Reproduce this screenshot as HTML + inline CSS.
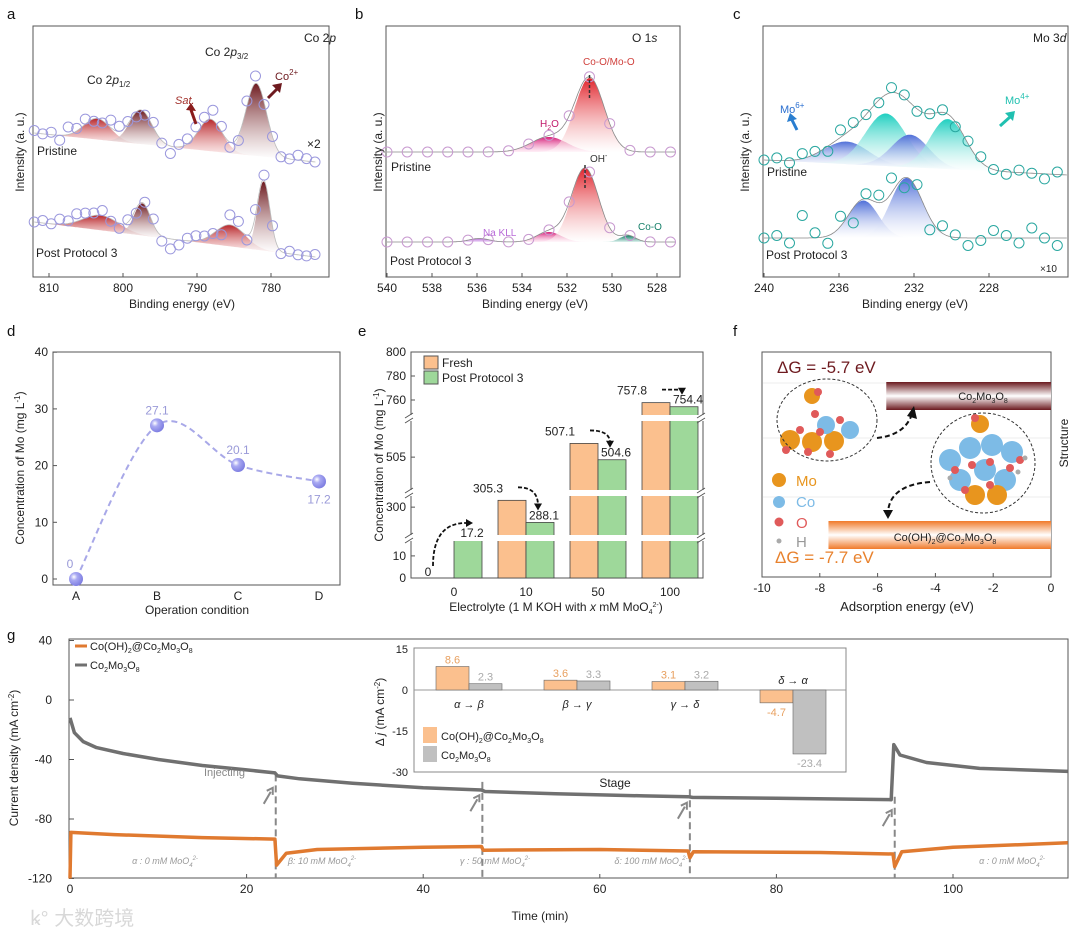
<!DOCTYPE html>
<html><head><meta charset="utf-8"><title>Figure</title>
<style>
html,body{margin:0;padding:0;background:#fff;}
svg{display:block;font-family:"Liberation Sans","Noto Sans CJK SC",sans-serif;}
.t{font-size:12px;fill:#222;}
.tk{font-size:12px;fill:#222;}
.pl{font-size:15px;fill:#111;}
</style></head>
<body>
<svg id="fig" width="1080" height="941" viewBox="0 0 1080 941" xmlns="http://www.w3.org/2000/svg">
<defs>
<linearGradient id="gDark" x1="0" y1="0" x2="0" y2="1"><stop offset="0" stop-color="#6e1a1f"/><stop offset="1" stop-color="#fff" stop-opacity="0.6"/></linearGradient>
<linearGradient id="gRed" x1="0" y1="0" x2="0" y2="1"><stop offset="0" stop-color="#b8262a"/><stop offset="1" stop-color="#fbe0e0" stop-opacity="0.6"/></linearGradient>
<linearGradient id="gPink" x1="0" y1="0" x2="0" y2="1"><stop offset="0" stop-color="#d6207a"/><stop offset="1" stop-color="#fde" stop-opacity="0.5"/></linearGradient>
<linearGradient id="gRed2" x1="0" y1="0" x2="0" y2="1"><stop offset="0" stop-color="#e0242c"/><stop offset="1" stop-color="#fff" stop-opacity="0.5"/></linearGradient>
<linearGradient id="gPurp" x1="0" y1="0" x2="0" y2="1"><stop offset="0" stop-color="#b86ad8"/><stop offset="1" stop-color="#f3e6fb"/></linearGradient>
<linearGradient id="gTealD" x1="0" y1="0" x2="0" y2="1"><stop offset="0" stop-color="#17806a"/><stop offset="1" stop-color="#e0f3ef"/></linearGradient>
<linearGradient id="gBlue" x1="0" y1="0" x2="0" y2="1"><stop offset="0" stop-color="#4f6fd8"/><stop offset="1" stop-color="#fff" stop-opacity="0.4"/></linearGradient>
<linearGradient id="gTeal" x1="0" y1="0" x2="0" y2="1"><stop offset="0" stop-color="#20cfc0"/><stop offset="1" stop-color="#fff" stop-opacity="0.4"/></linearGradient>
<linearGradient id="gBar1" x1="0" y1="0" x2="0" y2="1"><stop offset="0" stop-color="#6b1a1f"/><stop offset="0.5" stop-color="#fff"/><stop offset="1" stop-color="#6b1a1f"/></linearGradient>
<linearGradient id="gBar2" x1="0" y1="0" x2="0" y2="1"><stop offset="0" stop-color="#f07a2a"/><stop offset="0.5" stop-color="#fff"/><stop offset="1" stop-color="#f07a2a"/></linearGradient>
<radialGradient id="gBall" cx="0.35" cy="0.35" r="0.7"><stop offset="0" stop-color="#fff"/><stop offset="0.35" stop-color="#a9a9f2"/><stop offset="1" stop-color="#7b7be0"/></radialGradient>
</defs>

<text class="pl" x="7" y="19">a</text>
<text class="pl" x="355" y="19">b</text>
<text class="pl" x="733" y="19">c</text>
<text class="pl" x="7" y="336">d</text>
<text class="pl" x="358" y="336">e</text>
<text class="pl" x="733" y="336">f</text>
<text class="pl" x="7" y="640">g</text>

<rect x="33" y="26" width="296" height="251" fill="none" stroke="#555"/>
<g id="pa"></g>
<text class="t" x="304" y="42">Co 2<tspan font-style="italic">p</tspan></text>
<text class="t" x="205" y="56">Co 2<tspan font-style="italic">p</tspan><tspan font-size="8" dy="3">3/2</tspan></text>
<text class="t" x="87" y="84">Co 2<tspan font-style="italic">p</tspan><tspan font-size="8" dy="3">1/2</tspan></text>
<text x="175" y="104" font-size="11" font-style="italic" fill="#a2302a">Sat.</text>
<path d="M196 124 L191 110" stroke="#8a1c1c" stroke-width="3"/>
<path d="M186 110 L191 103 L196 111 Z" fill="#8a1c1c"/>
<text x="275" y="80" font-size="11" fill="#6e1a1f">Co<tspan font-size="8" dy="-5">2+</tspan></text>
<path d="M268 98 L277 89" stroke="#6e1a1f" stroke-width="3"/>
<path d="M272 85 L282 83 L280 93 Z" fill="#6e1a1f"/>
<text class="t" x="37" y="155">Pristine</text>
<text class="t" x="307" y="148">×2</text>
<text class="t" x="36" y="257">Post Protocol 3</text>
<text class="t" transform="translate(24,152) rotate(-90)" text-anchor="middle">Intensity (a. u.)</text>
<text class="t" x="182" y="308" text-anchor="middle">Binding energy (eV)</text>

<rect x="386" y="26" width="294" height="251" fill="none" stroke="#555"/>
<g id="pb"></g>
<text class="t" x="632" y="42">O 1<tspan font-style="italic">s</tspan></text>
<text x="583" y="65" font-size="10" fill="#d0403c">Co-O/Mo-O</text>
<text x="540" y="127" font-size="10" fill="#c0186a">H<tspan font-size="7" dy="3">2</tspan><tspan dy="-3">O</tspan></text>
<text class="t" x="391" y="171">Pristine</text>
<text x="590" y="162" font-size="10" fill="#333">OH<tspan font-size="7" dy="-4">-</tspan></text>
<text x="483" y="236" font-size="10" fill="#b86ad8">Na KLL</text>
<text x="638" y="230" font-size="10" fill="#17806a">Co-O</text>
<text class="t" x="390" y="265">Post Protocol 3</text>
<text class="t" transform="translate(382,152) rotate(-90)" text-anchor="middle">Intensity (a. u.)</text>
<text class="t" x="535" y="308" text-anchor="middle">Binding energy (eV)</text>

<rect x="763" y="26" width="305" height="251" fill="none" stroke="#555"/>
<g id="pc"></g>
<text class="t" x="1033" y="42">Mo 3<tspan font-style="italic">d</tspan></text>
<text x="780" y="113" font-size="11" fill="#2a6fd0">Mo<tspan font-size="8" dy="-5">6+</tspan></text>
<path d="M797 130 L792 120" stroke="#2a7ed0" stroke-width="3"/>
<path d="M787 122 L790 113 L797 119 Z" fill="#2a7ed0"/>
<text x="1005" y="104" font-size="11" fill="#20c0b0">Mo<tspan font-size="8" dy="-5">4+</tspan></text>
<path d="M1000 126 L1010 117" stroke="#20c0b0" stroke-width="3"/>
<path d="M1005 113 L1015 111 L1013 121 Z" fill="#20c0b0"/>
<text class="t" x="767" y="176">Pristine</text>
<text class="t" x="766" y="259">Post Protocol 3</text>
<text x="1040" y="272" font-size="10" fill="#222">×10</text>
<text class="t" transform="translate(749,152) rotate(-90)" text-anchor="middle">Intensity (a. u.)</text>
<text class="t" x="915" y="308" text-anchor="middle">Binding energy (eV)</text>

<rect x="53" y="352" width="287" height="233" fill="none" stroke="#555"/>
<g id="pd"></g>
<text class="t" transform="translate(24,468) rotate(-90)" text-anchor="middle" font-size="11">Concentration of Mo (mg L<tspan font-size="8" dy="-4">-1</tspan><tspan dy="4">)</tspan></text>
<text class="t" x="197" y="614" text-anchor="middle" font-size="11">Operation condition</text>

<rect x="411" y="352" width="292" height="226" fill="none" stroke="#555"/>
<g id="pe"></g>
<rect x="424" y="356" width="14" height="13" fill="#fbc08e" stroke="#555"/>
<text class="t" x="442" y="367">Fresh</text>
<rect x="424" y="371" width="14" height="13" fill="#9ed89a" stroke="#555"/>
<text class="t" x="442" y="382">Post Protocol 3</text>
<text class="t" transform="translate(383,465) rotate(-90)" text-anchor="middle" font-size="11">Concentration of Mo (mg L<tspan font-size="8" dy="-4">-1</tspan><tspan dy="4">)</tspan></text>
<text class="t" x="556" y="611" text-anchor="middle" font-size="11">Electrolyte (1 M KOH with <tspan font-style="italic">x</tspan> mM MoO<tspan font-size="7" dy="3">4</tspan><tspan font-size="7" dy="-7">2-</tspan><tspan dy="4">)</tspan></text>

<rect x="762" y="352" width="289" height="225" fill="none" stroke="#555"/>
<g id="pf"></g>
<text x="777" y="373" font-size="17" fill="#6e1a1f">ΔG = -5.7 eV</text>
<text x="775" y="563" font-size="17" fill="#e8822e">ΔG = -7.7 eV</text>
<text x="983" y="400" font-size="11" text-anchor="middle" fill="#222">Co<tspan font-size="7" dy="3">2</tspan><tspan dy="-3">Mo</tspan><tspan font-size="7" dy="3">3</tspan><tspan dy="-3">O</tspan><tspan font-size="7" dy="3">8</tspan></text>
<text x="945" y="541" font-size="11" text-anchor="middle" fill="#222">Co(OH)<tspan font-size="7" dy="3">2</tspan><tspan dy="-3">@Co</tspan><tspan font-size="7" dy="3">2</tspan><tspan dy="-3">Mo</tspan><tspan font-size="7" dy="3">3</tspan><tspan dy="-3">O</tspan><tspan font-size="7" dy="3">8</tspan></text>
<g>
<circle cx="779" cy="480" r="7" fill="#e8951e"/>
<text x="796" y="486" font-size="15" fill="#e8951e">Mo</text>
<circle cx="779" cy="502" r="6" fill="#7dbbe6"/>
<text x="796" y="507" font-size="15" fill="#7dbbe6">Co</text>
<circle cx="779" cy="522" r="4.5" fill="#e05a5a"/>
<text x="796" y="528" font-size="15" fill="#e05a5a">O</text>
<circle cx="779" cy="541" r="2.5" fill="#aaa"/>
<text x="796" y="547" font-size="15" fill="#999">H</text>
</g>
<text class="t" transform="translate(1068,443) rotate(-90)" text-anchor="middle">Structure</text>
<text x="907" y="611" font-size="13" text-anchor="middle" fill="#222">Adsorption energy (eV)</text>

<rect x="69" y="639" width="999" height="239" fill="none" stroke="#555"/>
<g id="pg"></g>
<text class="t" transform="translate(18,758) rotate(-90)" text-anchor="middle" font-size="11">Current density (mA cm<tspan font-size="8" dy="-4">-2</tspan><tspan dy="4">)</tspan></text>
<text class="t" x="540" y="920" text-anchor="middle" font-size="11">Time (min)</text>
<line x1="75" y1="646" x2="87" y2="646" stroke="#e07a30" stroke-width="3"/>
<text x="90" y="650" font-size="11" fill="#222">Co(OH)<tspan font-size="7" dy="3">2</tspan><tspan dy="-3">@Co</tspan><tspan font-size="7" dy="3">2</tspan><tspan dy="-3">Mo</tspan><tspan font-size="7" dy="3">3</tspan><tspan dy="-3">O</tspan><tspan font-size="7" dy="3">8</tspan></text>
<line x1="75" y1="665" x2="87" y2="665" stroke="#707070" stroke-width="3"/>
<text x="90" y="669" font-size="11" fill="#222">Co<tspan font-size="7" dy="3">2</tspan><tspan dy="-3">Mo</tspan><tspan font-size="7" dy="3">3</tspan><tspan dy="-3">O</tspan><tspan font-size="7" dy="3">8</tspan></text>
<text x="204" y="776" font-size="11" fill="#888">Injecting</text>
<g font-size="9" fill="#999" font-style="italic" text-anchor="middle">
<text x="165" y="864">α : 0 mM MoO<tspan font-size="6" dy="3">4</tspan><tspan font-size="6" dy="-7">2-</tspan></text>
<text x="322" y="864">β: 10 mM MoO<tspan font-size="6" dy="3">4</tspan><tspan font-size="6" dy="-7">2-</tspan></text>
<text x="495" y="864">γ : 50 mM MoO<tspan font-size="6" dy="3">4</tspan><tspan font-size="6" dy="-7">2-</tspan></text>
<text x="651" y="864">δ: 100 mM MoO<tspan font-size="6" dy="3">4</tspan><tspan font-size="6" dy="-7">2-</tspan></text>
<text x="1012" y="864">α : 0 mM MoO<tspan font-size="6" dy="3">4</tspan><tspan font-size="6" dy="-7">2-</tspan></text>
</g>
<rect x="414" y="648" width="432" height="124" fill="#fff" stroke="#888"/>
<g id="pi"></g>
<text class="t" x="615" y="787" text-anchor="middle">Stage</text>
<text class="t" transform="translate(384,712) rotate(-90)" text-anchor="middle" font-size="11">Δ <tspan font-style="italic">j</tspan> (mA cm<tspan font-size="8" dy="-4">-2</tspan><tspan dy="4">)</tspan></text>
<rect x="423" y="727" width="14" height="16" fill="#fbc08e"/>
<text x="441" y="740" font-size="11" fill="#222">Co(OH)<tspan font-size="7" dy="3">2</tspan><tspan dy="-3">@Co</tspan><tspan font-size="7" dy="3">2</tspan><tspan dy="-3">Mo</tspan><tspan font-size="7" dy="3">3</tspan><tspan dy="-3">O</tspan><tspan font-size="7" dy="3">8</tspan></text>
<rect x="423" y="746" width="14" height="16" fill="#c0c0c0"/>
<text x="441" y="759" font-size="11" fill="#222">Co<tspan font-size="7" dy="3">2</tspan><tspan dy="-3">Mo</tspan><tspan font-size="7" dy="3">3</tspan><tspan dy="-3">O</tspan><tspan font-size="7" dy="3">8</tspan></text>

<text x="30" y="925" font-size="20" fill="#d8d8d8">ꝃ° 大数跨境</text>
</svg>

<script>
const aPrisPeakCenters=[803.5,797.6,788.2,782.0];
const aPrisPeakHeights=[8.4,13.6,12.8,29];
const aPrisPeakWidths=[1.8,1.5,1.6,1.4];
const aPrisBase=[57.6,46];
const aPostPeakCenters=[803.0,797.4,785.5,781.0];
const aPostPeakHeights=[6,12.8,8.6,27.6];
const aPostPeakWidths=[2.4,1.1,2.0,0.85];
const aPostBase=[22,8];
const aPeakFills=['url(#gRed)','url(#gDark)','url(#gRed)','url(#gDark)'];
const aPrisResid=[1,0,1,-2,3,1,2,-1,-1,3,2,1,-2,-1,2,-1,-3,1,2,3,2,4,2,-2,-2,2,3,-1,0,-1,0,2];
const aPostResid=[0,1,0,2,1,3,2,1,2,-1,-2,1,-2,1,2,-2,-4,-2,1,2,1,0,-3,4,3,-2,2,2,0,-1,1,0];
const aTicks=[810,800,790,780];
const bPrisPeakCenters=[532.8,531.0];
const bPrisPeakHeights=[6,29.6];
const bPrisPeakWidths=[0.8,0.65];
const bPrisFills=['url(#gPink)','url(#gRed2)'];
const bPrisBase=50;
const bPostPeakCenters=[535.9,532.8,531.2,529.3];
const bPostPeakHeights=[1.4,4,29.6,2.6];
const bPostPeakWidths=[0.45,0.55,0.6,0.35];
const bPostFills=['url(#gPurp)','url(#gPink)','url(#gRed2)','url(#gTealD)'];
const bPostBase=14;
const bTicks=[540,538,536,534,532,530,528];
const cPrisPeakCenters=[235.6,233.5,232.2,230.2];
const cPrisPeakHeights=[9,21,13,20];
const cPrisPeakWidths=[1.2,1.1,1.0,0.95];
const cPrisFills=['url(#gBlue)','url(#gTeal)','url(#gBlue)','url(#gTeal)'];
const cPrisBase=[46.8,40.8];
const cPostPeakCenters=[234.7,232.4];
const cPostPeakHeights=[15,24];
const cPostPeakWidths=[0.8,0.85];
const cPostBase=15.6;
const cPrisResid=[0,1,-1,2,1,-2,3,2,0,-1,2,1,-1,0,1,-2,1,2,0,-1,1,0,-2,1,0];
const cPostResid=[0,1,-2,9,2,-3,4,-6,2,3,6,-4,2,-5,3,1,-3,-1,3,1,-2,4,0,-3,2];
const cTicks=[240,236,232,228];
const dCats=['A','B','C','D'];
const dVals=[0,27.1,20.1,17.2];
const dTicks=[0,10,20,30,40];
const eCats=['0','10','50','100'];
const eFresh=[0,305.3,507.1,757.8];
const ePost=[17.2,288.1,504.6,754.4];
const eTickVals=[0,10,300,505,760,780,800];
const fTicks=[-10,-8,-6,-4,-2,0];
const fEnergies=[-5.7,-7.7];
const gTicksX=[0,20,40,60,80,100];
const gTicksY=[40,0,-40,-80,-120];
const grayT=[0,0.5,1.5,3,6,10,15,20,23.2,23.5,26,32,40,46.6,47,55,65,70,70.5,80,93,93.3,94,97,103,113];
const grayV=[-12,-22,-28,-32,-36,-40,-44,-47,-49,-51,-53,-56,-59,-60.5,-61.5,-63,-64.5,-65,-65.5,-66,-67,-30,-37,-42,-46,-48];
const orT=[0,0.1,5,15,23.2,23.4,24.5,28,40,46.6,46.8,60,70,70.2,70.6,85,93.2,93.4,94.2,100,113];
const orV=[-120,-89,-90.5,-92.5,-93.5,-111,-103,-100.5,-99,-98.5,-101,-100.5,-101.5,-106,-102,-102.5,-103.5,-112,-102,-99,-96];
const injectT=[23.3,46.7,70.2,93.4];
const iCats=['α → β','β → γ','γ → δ','δ → α'];
const iCoOH=[8.6,3.6,3.1,-4.7];
const iCo2=[2.3,3.3,3.2,-23.4];
const iTicks=[15,0,-15,-30];

const NS='http://www.w3.org/2000/svg';
function mk(tag,attrs,parent){const e=document.createElementNS(NS,tag);for(const k in attrs)e.setAttribute(k,attrs[k]);parent.appendChild(e);return e;}
function gauss(E,c,h,w){return h*Math.exp(-0.5*((E-c)/w)**2);}

function xps(g,xs,ys,e0,e1,base,cs,hs,ws,fills,outline,circleColor,step,resid,lineColor){
  const bl=E=>typeof base==='number'?base:base[0]+(base[1]-base[0])*(e0-E)/(e0-e1);
  const env=E=>{let s=bl(E);for(let i=0;i<cs.length;i++)s+=gauss(E,cs[i],hs[i],ws[i]);return s;};
  for(let i=0;i<cs.length;i++){
    let d='';
    for(let E=cs[i]+3.5*ws[i];E>=cs[i]-3.5*ws[i];E-=0.05){d+=(d?'L':'M')+xs(E).toFixed(1)+' '+ys(bl(E)+gauss(E,cs[i],hs[i],ws[i])).toFixed(1);}
    for(let E=cs[i]-3.5*ws[i];E<=cs[i]+3.5*ws[i];E+=0.2){d+='L'+xs(E).toFixed(1)+' '+ys(bl(E)).toFixed(1);}
    const p=mk('path',{d:d+'Z',fill:fills[i],stroke:'none'},g);
    
    
  }
  let d='';
  for(let E=e0;E>=e1;E-=0.05)d+=(d?'L':'M')+xs(E).toFixed(1)+' '+ys(env(E)).toFixed(1);
  const env1=mk('path',{d,fill:'none',stroke:lineColor,'stroke-width':0.8},g);
  
  
  let i=0;
  for(let E=e0;E>=e1;E-=step,i++){
    const c=mk('circle',{cx:xs(E).toFixed(1),cy:ys(env(E)+(resid[i%resid.length]||0)).toFixed(1),r:5,fill:'none',stroke:circleColor,'stroke-width':1},g);
    
    
  }
}
function xTicks(g,xs,ticks,y,fmt){
  ticks.forEach(t=>{
    const l=mk('line',{x1:xs(t),x2:xs(t),y1:y,y2:y-4,stroke:'#555'},g);
    
    
    const tx=mk('text',{x:xs(t),y:y+15,'text-anchor':'middle','font-size':12,fill:'#222'},g);
    tx.textContent=fmt?fmt(t):t;
    
    
  });
}

{const g=document.getElementById('pa');
 const xs=E=>49+(810-E)*7.4, ys=I=>277-I*2.5;
 xps(g,xs,ys,812,774,aPrisBase,aPrisPeakCenters,aPrisPeakHeights,aPrisPeakWidths,aPeakFills,0,'#9b98dd',1.15,aPrisResid,'#bbb');
 xps(g,xs,ys,812,774,aPostBase,aPostPeakCenters,aPostPeakHeights,aPostPeakWidths,aPeakFills,0,'#9b98dd',1.15,aPostResid,'#bbb');
 xTicks(g,xs,aTicks,277);}
{const g=document.getElementById('pb');
 const xs=E=>387+(540-E)*22.5, ys=I=>277-I*2.5;
 xps(g,xs,ys,540,527.2,bPrisBase,bPrisPeakCenters,bPrisPeakHeights,bPrisPeakWidths,bPrisFills,0,'#c89ad0',0.9,[0],'#888');
 xps(g,xs,ys,540,527.2,bPostBase,bPostPeakCenters,bPostPeakHeights,bPostPeakWidths,bPostFills,0,'#c89ad0',0.9,[0],'#888');
 xTicks(g,xs,bTicks,277);
 [[531,75,100],[531.2,165,190]].forEach(a=>{const l=mk('line',{x1:xs(a[0]),x2:xs(a[0]),y1:a[1],y2:a[2],stroke:'#333','stroke-dasharray':'3,2','stroke-width':1.5},g);
 
 });}
{const g=document.getElementById('pc');
 const xs=E=>764+(240-E)*18.75, ys=I=>277-I*2.5;
 xps(g,xs,ys,240,223.8,cPrisBase,cPrisPeakCenters,cPrisPeakHeights,cPrisPeakWidths,cPrisFills,0,'#2aa7a0',0.68,cPrisResid,'#888');
 xps(g,xs,ys,240,223.8,cPostBase,cPostPeakCenters,cPostPeakHeights,cPostPeakWidths,['url(#gBlue)','url(#gBlue)'],0,'#2aa7a0',0.68,cPostResid,'#888');
 xTicks(g,xs,cTicks,277);}

{const g=document.getElementById('pd');
 const xs=i=>76+i*81, ys=v=>579-v*5.67;
 dTicks.forEach(t=>{const l=mk('line',{x1:53,x2:57,y1:ys(t),y2:ys(t),stroke:'#555'},g);
  
  
  const tx=mk('text',{x:48,y:ys(t)+4,'text-anchor':'end','font-size':12,fill:'#222'},g);tx.textContent=t;
  
  });
 dCats.forEach((c,i)=>{const tx=mk('text',{x:xs(i),y:600,'text-anchor':'middle','font-size':12,fill:'#222'},g);tx.textContent=c;
  
  });
 const P=dVals.map((v,i)=>[xs(i),ys(v)]);let d='M'+P[0].join(' ');
 for(let i=0;i<P.length-1;i++){const p0=P[Math.max(0,i-1)],p1=P[i],p2=P[i+1],p3=P[Math.min(P.length-1,i+2)];
  d+=`C${p1[0]+(p2[0]-p0[0])/6} ${p1[1]+(p2[1]-p0[1])/6} ${p2[0]-(p3[0]-p1[0])/6} ${p2[1]-(p3[1]-p1[1])/6} ${p2[0]} ${p2[1]}`;}
 const cv=mk('path',{d,fill:'none',stroke:'#a8a8e8','stroke-width':2,'stroke-dasharray':'6,4'},g);
 
 
 dVals.forEach((v,i)=>{const c=mk('circle',{cx:xs(i),cy:ys(v),r:7,fill:'url(#gBall)'},g);
  
  
  const below=i===3;
  const tx=mk('text',{x:xs(i)-(i===0?6:0),y:below?ys(v)+22:ys(v)-11,'text-anchor':'middle','font-size':12,fill:'#9a9ad8'},g);tx.textContent=v;
  
  });}

{const g=document.getElementById('pe');
 const segs=[[0,18.1,578,538],[276,311,538,493],[499.5,511,493,418],[745,800,418,352]];
 const ys=v=>{for(const s of segs){if(v>=s[0]&&v<=s[1])return s[2]-(v-s[0])*(s[2]-s[3])/(s[1]-s[0]);}
   if(v<segs[1][0])return segs[0][3];if(v<segs[2][0])return segs[1][3];return segs[2][3];};
 const xc=i=>454+i*72, bw=28;
 const lg=document.createElementNS(NS,'g');
 
 
 eCats.forEach((c,i)=>{
  if(eFresh[i]>0){const r=mk('rect',{x:xc(i)-bw,y:ys(eFresh[i]),width:bw,height:578-ys(eFresh[i]),fill:'#fbc08e',stroke:'#444','stroke-width':0.8},g);
   
   }
  const r2=mk('rect',{x:xc(i),y:ys(ePost[i]),width:bw,height:578-ys(ePost[i]),fill:'#9ed89a',stroke:'#444','stroke-width':0.8},g);
  
  
  const tl=mk('text',{x:xc(i),y:596,'text-anchor':'middle','font-size':12,fill:'#222'},lg);tl.textContent=c;
  
  
  const t1=mk('text',{x:xc(i)-bw-10+(i===0?12:0),y:i===0?576:ys(eFresh[i])-8,'text-anchor':'middle','font-size':12,fill:'#222'},lg);t1.textContent=eFresh[i];
  
  
  const t2=mk('text',{x:xc(i)+bw/2+4,y:ys(ePost[i])-3,'text-anchor':'middle','font-size':12,fill:'#222'},lg);t2.textContent=ePost[i];
  
  
  const sx=i===0?xc(i)-21:xc(i)-8, sy=i===0?566:ys(eFresh[i])-13, ex=xc(i)+bw/2-2, ey=ys(ePost[i])-17;
  const ar=mk('path',{d:`M${sx} ${sy} Q${i===0?sx:ex} ${i===0?ey:sy} ${ex} ${ey}`,fill:'none',stroke:'#111','stroke-width':1.8,'stroke-dasharray':'4,2'},lg);
  
  
  const ah=mk('path',{d:i===0?`M${ex} ${ey-4} L${ex+7} ${ey} L${ex} ${ey+4}Z`:`M${ex-4} ${ey-2} L${ex} ${ey+5} L${ex+4} ${ey-2}Z`,fill:'#111'},lg);
  
  
 });
 [538,493,418].forEach(y=>{const b=mk('rect',{x:405,y:y-3,width:304,height:6,fill:'#fff'},g);
  
  
  [405,697].forEach(x=>{const s=mk('path',{d:`M${x} ${y} l8 -5 M${x} ${y+5} l8 -5`,stroke:'#555'},g);
   
   });});
 g.appendChild(lg);
 eTickVals.forEach(t=>{const l=mk('line',{x1:411,x2:415,y1:ys(t),y2:ys(t),stroke:'#555'},g);
  
  
  const tx=mk('text',{x:406,y:ys(t)+4,'text-anchor':'end','font-size':12,fill:'#222'},g);tx.textContent=t;
  
  });}

{const g=document.getElementById('pf');
 const xs=e=>1051+e*28.9;
 [383,438,497].forEach(y=>{const l=mk('line',{x1:763,x2:1050,y1:y,y2:y,stroke:'#eee'},g);
  
  });
 const b1=mk('rect',{x:xs(fEnergies[0]),y:382,width:1051-xs(fEnergies[0]),height:28,fill:'url(#gBar1)'},g);
 
 
 const b2=mk('rect',{x:xs(fEnergies[1]),y:521,width:1051-xs(fEnergies[1]),height:28,fill:'url(#gBar2)'},g);
 
 
 const s1=mk('g',{},g);
 
 
 const atoms1=[[790,440,'#e8951e',10],[812,442,'#e8951e',10],[834,441,'#e8951e',10],[850,430,'#7dbbe6',9],[826,425,'#7dbbe6',9],[812,396,'#e8951e',8],[800,430,'#e05a5a',4],[820,432,'#e05a5a',4],[840,420,'#e05a5a',4],[815,414,'#e05a5a',4],[818,392,'#e05a5a',4],[808,452,'#e05a5a',4],[830,454,'#e05a5a',4],[786,450,'#e05a5a',4]];
 atoms1.forEach(a=>{const c=mk('circle',{cx:a[0],cy:a[1],r:a[3],fill:a[2]},s1);
  
  });
 const e1=mk('ellipse',{cx:827,cy:420,rx:50,ry:41,fill:'none',stroke:'#333','stroke-dasharray':'3,2'},g);
 
 
 const s2=mk('g',{},g);
 
 
 const atoms2=[[950,460,'#7dbbe6',11],[970,448,'#7dbbe6',11],[992,445,'#7dbbe6',11],[1012,452,'#7dbbe6',11],[960,480,'#7dbbe6',11],[985,470,'#7dbbe6',11],[1005,480,'#7dbbe6',11],[975,495,'#e8951e',10],[997,495,'#e8951e',10],[980,424,'#e8951e',9],[955,470,'#e05a5a',4],[972,465,'#e05a5a',4],[990,462,'#e05a5a',4],[1010,468,'#e05a5a',4],[1020,460,'#e05a5a',4],[965,490,'#e05a5a',4],[990,485,'#e05a5a',4],[975,418,'#e05a5a',4],[1018,472,'#aaa',2.5],[1025,458,'#aaa',2.5],[950,478,'#aaa',2.5]];
 atoms2.forEach(a=>{const c=mk('circle',{cx:a[0],cy:a[1],r:a[3],fill:a[2]},s2);
  
  });
 const e2=mk('ellipse',{cx:983,cy:463,rx:52,ry:50,fill:'none',stroke:'#333','stroke-dasharray':'3,2'},g);
 
 
 const a1=mk('path',{d:'M877 438 Q905 435 912 414',fill:'none',stroke:'#111','stroke-width':2,'stroke-dasharray':'5,3'},g);
 
 
 const a2=mk('path',{d:'M930 482 Q890 485 888 512',fill:'none',stroke:'#111','stroke-width':2,'stroke-dasharray':'5,3'},g);
 
 
 const h1=mk('path',{d:'M907 416 L914 406 L917 419Z M883 510 L888 519 L893 510Z',fill:'#111'},g);
 
 
 xTicks(g,xs,fTicks,577);}

{const g=document.getElementById('pg');
 const xs=t=>70+t*8.83, ys=v=>700-v*1.4875;
 gTicksY.forEach(t=>{const l=mk('line',{x1:69,x2:74,y1:ys(t),y2:ys(t),stroke:'#555'},g);
  
  
  const tx=mk('text',{x:52,y:ys(t)+4,'text-anchor':'end','font-size':12,fill:'#222'},g);tx.textContent=t;
  
  });
 xTicks(g,xs,gTicksX,878);
 injectT.forEach((t,i)=>{const l=mk('line',{x1:xs(t),x2:xs(t),y1:ys(grayV[0]-38-i*5),y2:878,stroke:'#888','stroke-width':2,'stroke-dasharray':'7,4'},g);
  
  
  const ax=xs(t)-3, ay=ys(-55-i*5)+8;
  const ar=mk('path',{d:`M${ax-9} ${ay+14} L${ax-2} ${ay+2} M${ax-6} ${ay+1} L${ax} ${ay-2} L${ax} ${ay+5}`,stroke:'#888','stroke-width':2,fill:'none'},g);
  
  });
 const line=(T,V,col,name)=>{const d=T.map((t,i)=>(i?'L':'M')+xs(t).toFixed(1)+' '+ys(V[i]).toFixed(1)).join('');
  const p=mk('path',{d,fill:'none',stroke:col,'stroke-width':3.5,'stroke-linejoin':'round'},g);
  
  };
 line(grayT,grayV,'#707070','series-co2mo3o8');
 line(orT,orV,'#e07a30','series-cooh-co2mo3o8');}

{const g=document.getElementById('pi');
 const ys=v=>690-v*2.733, xc=i=>469+i*108, bw=33;
 const zl=mk('line',{x1:414,x2:846,y1:690,y2:690,stroke:'#999'},g);
 
 
 iTicks.forEach(t=>{const tx=mk('text',{x:408,y:ys(t)+4,'text-anchor':'end','font-size':11,fill:'#222'},g);tx.textContent=t;
  
  });
 iCats.forEach((c,i)=>{
  [[iCoOH[i],'#fbc08e','#e8a060',-bw,'inset-bar-cooh'],[iCo2[i],'#c0c0c0','#aaa',0,'inset-bar-co2mo3o8']].forEach(s=>{
   const v=s[0];const r=mk('rect',{x:xc(i)+s[3],y:Math.min(ys(v),690),width:bw,height:Math.abs(ys(v)-690),fill:s[1],stroke:'#666','stroke-width':0.6},g);
   
   
   const tx=mk('text',{x:xc(i)+s[3]+bw/2,y:v>=0?ys(v)-3:ys(v)+13,'text-anchor':'middle','font-size':11,fill:s[2]},g);tx.textContent=v;
   
   });
  const tl=mk('text',{x:xc(i),y:i===3?684:708,'text-anchor':'middle','font-size':11,'font-style':'italic',fill:'#222'},g);tl.textContent=c;
  
  });}
</script>
</body></html>
